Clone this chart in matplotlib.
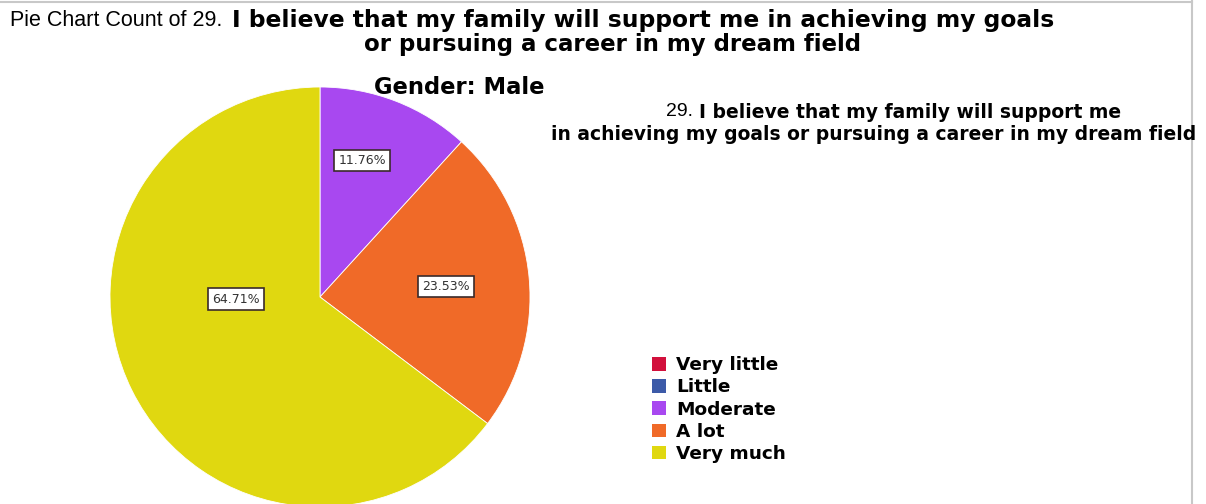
import matplotlib
matplotlib.use("Agg")
import matplotlib.pyplot as plt
from matplotlib.patches import Patch
from matplotlib.lines import Line2D

W, H = 1206, 504

categories = ["Very little", "Little", "Moderate", "A lot", "Very much"]
counts = [0, 0, 2, 4, 11]
colors = ["#d2103c", "#3c5aa8", "#a848f0", "#f06a28", "#e0d810"]

# label spots inside the pie (radius units), like the SPSS output
label_pos = {"Moderate": (0.2, 0.65), "A lot": (0.6, 0.05), "Very much": (-0.4, -0.01)}

fig = plt.figure(figsize=(W / 100, H / 100), dpi=100)
fig.patch.set_facecolor("white")


def fx(x):
    return x / W


def fy(y):
    return 1 - y / H


BOLD = dict(family="DejaVu Sans", fontweight="bold")

# pie axes: circle centre ~ (320, 297) px, radius ~210 px
ax = fig.add_axes([fx(110), fy(507), 420 / W, 420 / H])
shown = [(c, v, col) for c, v, col in zip(categories, counts, colors) if v > 0]
wedges, _ = ax.pie([v for _, v, _ in shown], colors=[col for _, _, col in shown],
                   startangle=90, counterclock=False, radius=1,
                   wedgeprops=dict(linewidth=0.6, edgecolor="white"))
ax.set_xlim(-1, 1)
ax.set_ylim(-1, 1)
ax.set_aspect("equal")
ax.axis("off")

total = sum(counts)
for c, v, col in shown:
    x, y = label_pos[c]
    ax.text(x, y, "%.2f%%" % (100 * v / total), ha="center", va="center",
            fontsize=9, family="DejaVu Sans", color="#333333",
            bbox=dict(boxstyle="square,pad=0.35", fc="white", ec="#3a2a2a", lw=1.2))

# title
fig.text(fx(10), fy(20), "Pie Chart Count of 29.", ha="left", va="center",
         fontsize=15.5, family="Liberation Sans")
fig.text(fx(232), fy(20), "I believe that my family will support me in achieving my goals",
         ha="left", va="center", fontsize=16.8, **BOLD)
fig.text(fx(612), fy(44), "or pursuing a career in my dream field",
         ha="center", va="center", fontsize=16.5, **BOLD)
fig.text(fx(459), fy(88), "Gender: Male", ha="center", va="center",
         fontsize=16.3, **BOLD)

# legend title
fig.text(fx(666), fy(111), "29.", ha="left", va="center", fontsize=14, family="Liberation Sans")
fig.text(fx(699), fy(112), "I believe that my family will support me", ha="left",
         va="center", fontsize=13.5, **BOLD)
fig.text(fx(551), fy(135), "in achieving my goals or pursuing a career in my dream field",
         ha="left", va="center", fontsize=13.5, **BOLD)

handles = [Patch(facecolor=col, edgecolor="none") for col in colors]
fig.legend(handles, categories, loc="upper left", bbox_to_anchor=(fx(645), fy(349)),
           frameon=False, handlelength=0.72, handleheight=0.72, handletextpad=0.55,
           labelspacing=0.22, borderaxespad=0,
           prop=dict(family="DejaVu Sans", weight="bold", size=13.3))

# thin frame lines from the screenshot
fig.add_artist(Line2D([0, fx(1192)], [fy(2), fy(2)], color="#c8c8c8", lw=1.5))
fig.add_artist(Line2D([fx(1192), fx(1192)], [0, 1], color="#c8c8c8", lw=1.5))

fig.savefig("out.png", dpi=100)
